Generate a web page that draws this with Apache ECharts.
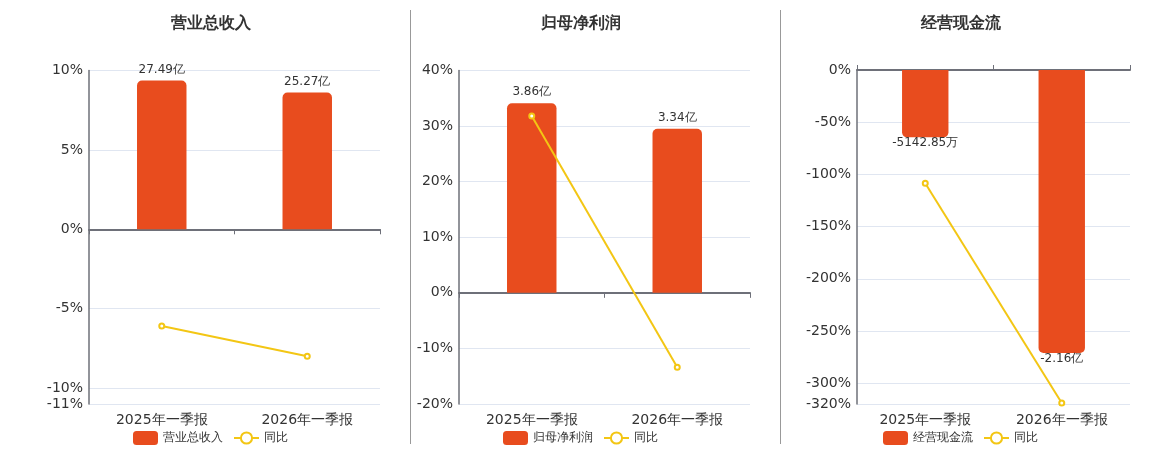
<!DOCTYPE html>
<html>
<head>
<meta charset="utf-8">
<script src="https://cdn.jsdelivr.net/npm/echarts@6/dist/echarts.min.js"></script>
<style>
  html, body { margin: 0; padding: 0; background: #fff; }
  #main { width: 1160px; height: 450px; }
</style>
</head>
<body>
<div id="main"></div>
<script>
// 报告期
const categories = ['2025年一季报', '2026年一季报'];

// 营业总收入（亿）与同比（%）
const revenue = [27.49, 25.27];
const revenueLabels = ['27.49亿', '25.27亿'];
const revenueYoy = [-6.09, -7.99];
const revenueTicks = [-11, -10, -5, 0, 5, 10];

// 归母净利润（亿）与同比（%）
const profit = [3.86, 3.34];
const profitLabels = ['3.86亿', '3.34亿'];
const profitYoy = [31.8, -13.4];
const profitTicks = [-20, -10, 0, 10, 20, 30, 40];

// 经营现金流（亿）与同比（%）
const cashflow = [-0.514285, -2.16];
const cashflowLabels = ['-5142.85万', '-2.16亿'];
const cashflowYoy = [-108.5, -319];
const cashflowTicks = [-320, -300, -250, -200, -150, -100, -50, 0];

const BAR_COLOR = '#E84C1E';
const LINE_COLOR = '#F3C614';
const AXIS_COLOR = '#6E7079';

// 每个小图的位置；barExtent 为柱子轴在百分比轴底/顶端对应的值
const panels = [
  { title: '营业总收入', name: '营业总收入', bars: revenue, labels: revenueLabels, yoy: revenueYoy, ticks: revenueTicks,
    center: 210, left: 89, width: 291, barExtent: [-32.27, 29.34] },
  { title: '归母净利润', name: '归母净利润', bars: profit, labels: profitLabels, yoy: profitYoy, ticks: profitTicks,
    center: 580, left: 459, width: 291, barExtent: [-2.264, 4.528] },
  { title: '经营现金流', name: '经营现金流', bars: cashflow, labels: cashflowLabels, yoy: cashflowYoy, ticks: cashflowTicks,
    center: 960, left: 857, width: 273, barExtent: [-2.55, 0] }
];

const chart = echarts.init(document.getElementById('main'));

const option = {
  animation: false,
  backgroundColor: '#fff',
  textStyle: { fontFamily: 'DejaVu Sans, sans-serif' },
  title: [],
  legend: [],
  grid: [],
  xAxis: [],
  yAxis: [],
  series: [],
  graphic: [
    { type: 'line', shape: { x1: 410.5, y1: 10, x2: 410.5, y2: 444 }, style: { stroke: '#999', lineWidth: 1 } },
    { type: 'line', shape: { x1: 780.5, y1: 10, x2: 780.5, y2: 444 }, style: { stroke: '#999', lineWidth: 1 } }
  ]
};

panels.forEach((p, i) => {
  const pmin = p.ticks[0];
  const pmax = p.ticks[p.ticks.length - 1];

  option.title.push({
    text: p.title,
    left: p.center - 4,
    top: 11,
    textAlign: 'center',
    textStyle: { fontSize: 16, fontWeight: 'bold', color: '#333' }
  });

  option.legend.push({
    data: [p.name, '同比'],
    left: p.center - 82,
    top: 426,
    itemWidth: 25,
    itemHeight: 14,
    itemGap: 10,
    textStyle: { fontSize: 12, color: '#333' }
  });

  option.grid.push({ left: p.left, width: p.width, top: pmax === 0 ? 70 : 70.5, bottom: 46 });

  // 零线坐标轴（带刻度）
  option.xAxis.push({
    type: 'category',
    gridIndex: i,
    data: categories,
    position: pmax === 0 ? 'top' : 'bottom',
    axisLine: { show: true, onZero: true, onZeroAxisIndex: 2 * i, lineStyle: { color: AXIS_COLOR, width: 2 } },
    axisTick: { show: true, length: 5, lineStyle: { color: AXIS_COLOR } },
    axisLabel: { show: false },
    splitLine: { show: false }
  });
  // 底部类目标签
  option.xAxis.push({
    type: 'category',
    gridIndex: i,
    data: categories,
    position: 'bottom',
    axisLine: { show: false, onZero: false },
    axisTick: { show: false },
    axisLabel: { show: true, fontSize: 14, color: '#333', margin: 9 },
    splitLine: { show: false }
  });

  option.yAxis.push({
    type: 'value',
    gridIndex: i,
    min: pmin,
    max: pmax,
    axisLine: { show: true, lineStyle: { color: AXIS_COLOR, width: 1.5 } },
    axisTick: { show: false, customValues: p.ticks },
    axisLabel: { fontSize: 14, color: '#333', margin: 6, formatter: '{value}%', customValues: p.ticks },
    splitLine: { show: true, lineStyle: { color: '#E0E6F1' } }
  });
  option.yAxis.push({
    type: 'value',
    gridIndex: i,
    min: p.barExtent[0],
    max: p.barExtent[1],
    show: false,
    splitLine: { show: false }
  });

  option.series.push({
    name: p.name,
    type: 'bar',
    xAxisIndex: 2 * i,
    yAxisIndex: 2 * i + 1,
    data: p.bars.map((v) => ({
      value: v,
      itemStyle: { borderRadius: v >= 0 ? [5, 5, 0, 0] : [0, 0, 5, 5] },
      label: { position: v >= 0 ? 'top' : 'bottom', distance: v >= 0 ? 5 : 0 }
    })),
    barWidth: '34%',
    itemStyle: { color: BAR_COLOR },
    label: {
      show: true,
      fontSize: 12,
      color: '#333',
      formatter: (d) => p.labels[d.dataIndex]
    }
  });

  option.series.push({
    name: '同比',
    type: 'line',
    xAxisIndex: 2 * i,
    yAxisIndex: 2 * i,
    data: p.yoy,
    symbol: 'emptyCircle',
    symbolSize: 5,
    z: 5,
    itemStyle: { color: LINE_COLOR, borderWidth: 1.5 },
    lineStyle: { color: LINE_COLOR, width: 2 }
  });
});

chart.setOption(option);
</script>
</body>
</html>
